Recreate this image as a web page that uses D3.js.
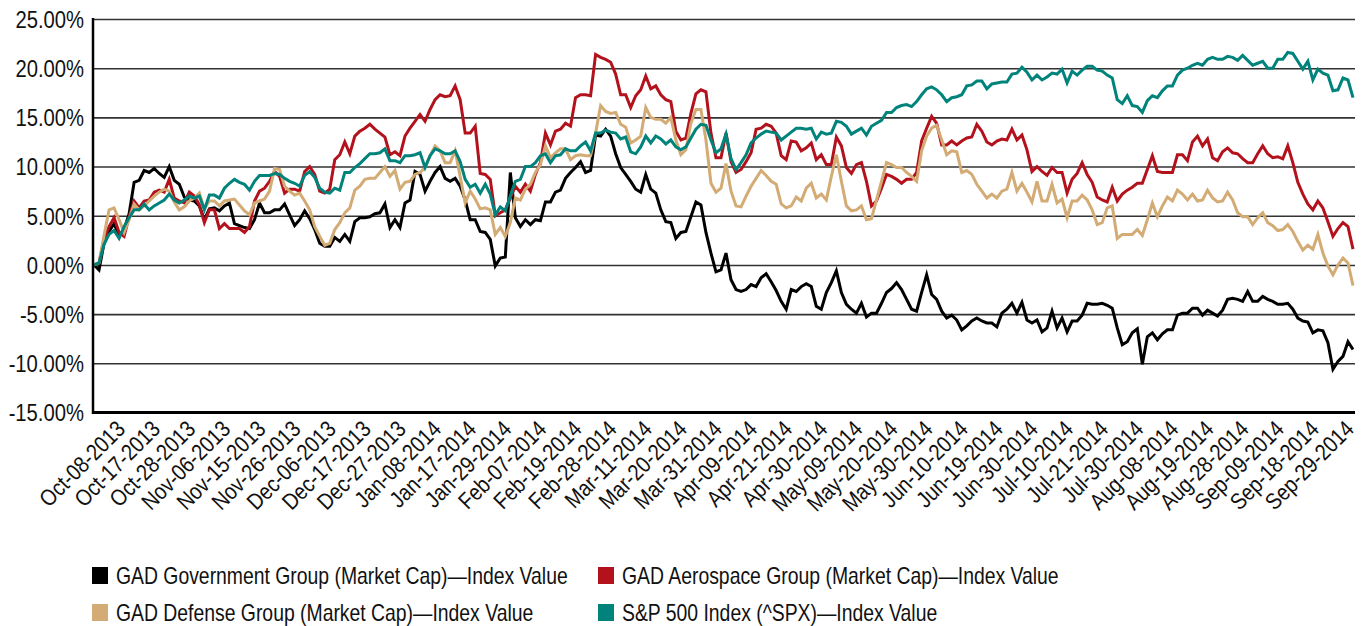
<!DOCTYPE html>
<html>
<head>
<meta charset="utf-8">
<script src="https://cdn.jsdelivr.net/npm/d3@7"></script>
<style>
  body { margin: 0; background: #fff; }
  svg text { font-family: "Liberation Sans", Arial, sans-serif; fill: #111; }
</style>
</head>
<body>
<svg width="1364" height="626"></svg>
<script>
// trading-day index 0 = Oct-08-2013, values are % change from start
var tickLabels = ["Oct-08-2013","Oct-17-2013","Oct-28-2013","Nov-06-2013","Nov-15-2013","Nov-26-2013",
  "Dec-06-2013","Dec-17-2013","Dec-27-2013","Jan-08-2014","Jan-17-2014","Jan-29-2014","Feb-07-2014",
  "Feb-19-2014","Feb-28-2014","Mar-11-2014","Mar-20-2014","Mar-31-2014","Apr-09-2014","Apr-21-2014",
  "Apr-30-2014","May-09-2014","May-20-2014","May-30-2014","Jun-10-2014","Jun-19-2014","Jun-30-2014",
  "Jul-10-2014","Jul-21-2014","Jul-30-2014","Aug-08-2014","Aug-19-2014","Aug-28-2014","Sep-09-2014",
  "Sep-18-2014","Sep-29-2014"];
var yTicks = [-15, -10, -5, 0, 5, 10, 15, 20, 25];

var government = [0,-0.5,2.2,3.4,4.2,3.0,3.6,5.2,8.4,8.6,
  9.6,9.4,9.8,9.3,8.9,10.0,8.6,8.2,6.9,6.6,
  6.5,6.0,4.6,5.7,5.8,5.5,6.0,6.3,4.2,4.0,
  3.8,3.7,4.6,6.3,5.3,5.3,5.6,5.6,6.2,5.1,
  4.0,4.6,5.5,4.7,3.6,2.2,1.9,1.9,2.8,2.4,
  3.1,2.4,4.4,4.8,4.8,4.9,5.2,5.3,6.2,3.8,
  4.6,3.8,6.3,6.6,9.5,9.2,7.5,8.5,9.4,10.0,
  8.8,8.5,8.8,8.0,6.6,4.6,4.6,3.4,3.3,2.6,
  -0.1,0.7,0.8,9.4,4.8,3.9,4.6,4.1,4.6,4.5,
  6.4,6.4,7.4,7.6,8.8,9.4,9.9,10.5,9.4,9.6,
  13.2,13.1,13.8,13.1,11.3,9.9,9.2,8.5,7.7,7.4,
  9.2,7.7,7.3,5.6,4.4,4.3,2.7,3.3,3.4,4.9,
  6.4,6.1,3.3,1.2,-0.7,-0.5,1.2,-1.5,-2.5,-2.7,
  -2.5,-2.0,-2.2,-1.3,-0.9,-1.7,-2.6,-3.7,-4.5,-2.5,
  -2.7,-2.2,-1.9,-2.2,-4.2,-4.5,-2.8,-1.8,-0.6,-2.8,
  -4.0,-4.5,-4.9,-3.9,-5.3,-4.9,-4.9,-3.9,-2.8,-2.4,
  -1.8,-2.5,-3.5,-4.5,-4.7,-2.8,-1.0,-3.0,-3.5,-4.7,
  -5.4,-5.1,-5.6,-6.6,-6.2,-5.7,-5.4,-5.7,-5.9,-5.9,
  -6.3,-4.9,-4.5,-3.9,-4.9,-3.8,-5.6,-5.9,-5.6,-6.8,
  -6.4,-4.7,-6.4,-5.4,-6.8,-5.7,-5.7,-5.1,-3.9,-4.0,
  -4.0,-3.9,-4.1,-4.4,-6.4,-8.1,-7.8,-6.9,-6.5,-10.1,
  -7.3,-6.9,-7.6,-7.0,-6.6,-6.6,-5.1,-4.9,-4.9,-4.4,
  -4.4,-5.1,-4.6,-4.9,-5.2,-4.6,-3.5,-3.4,-3.5,-3.7,
  -2.7,-3.7,-3.7,-3.2,-3.5,-3.7,-4.0,-4.0,-3.9,-4.5,
  -5.4,-5.7,-5.8,-6.9,-6.6,-6.7,-7.9,-10.6,-9.8,-9.3,
  -7.8,-8.6];

var aerospace = [0,0.2,2.6,3.9,4.8,3.3,2.9,4.9,6.5,5.8,
  6.5,6.6,7.4,7.6,7.4,8.7,6.8,6.5,6.3,7.4,
  7.0,6.1,4.3,5.6,5.6,3.7,4.2,3.7,3.7,3.7,
  3.3,3.9,6.5,7.5,7.8,8.5,9.5,9.0,7.3,7.7,
  7.7,7.5,9.5,10.0,9.2,7.5,7.3,7.7,10.7,11.2,
  12.5,11.3,13.1,13.6,13.9,14.3,13.8,13.4,13.0,11.2,
  11.5,11.1,13.1,13.9,14.6,15.3,14.6,15.8,16.8,17.3,
  17.1,17.2,18.2,16.8,13.4,13.4,14.1,9.3,9.2,8.7,
  5.0,5.3,5.6,6.8,8.0,7.4,8.2,7.5,9.2,10.4,
  13.4,12.2,13.6,13.8,14.4,14.1,17.0,17.3,17.3,17.2,
  21.4,21.1,20.9,20.6,19.4,17.3,17.3,16.0,17.2,17.8,
  19.2,17.9,18.2,17.3,16.8,16.6,13.6,12.7,12.9,15.4,
  17.4,17.8,17.6,13.4,10.9,10.9,13.4,10.5,9.4,9.7,
  10.5,11.4,13.8,13.9,14.3,14.1,13.4,11.1,10.7,12.6,
  12.5,11.6,11.9,12.4,10.7,11.2,10.2,10.2,13.0,12.1,
  9.9,9.3,10.2,10.4,8.5,6.0,6.5,7.8,9.2,9.0,
  8.7,8.3,8.7,8.7,9.4,12.6,13.9,15.1,14.4,12.2,
  12.2,12.6,12.2,12.6,12.9,13.0,14.3,13.6,12.5,12.2,
  12.6,12.8,12.7,13.8,12.7,13.2,11.7,9.5,10.0,9.5,
  9.1,9.9,9.4,9.4,7.3,8.7,9.3,10.4,9.2,8.4,
  6.9,6.6,6.4,7.9,6.5,7.2,7.6,7.9,8.3,8.3,
  9.7,11.1,9.5,9.4,9.4,9.4,11.2,11.2,10.6,12.5,
  13.1,12.1,12.8,10.9,10.6,11.5,11.9,11.4,11.3,10.8,
  10.4,10.4,11.3,12.1,11.3,10.9,11.0,10.8,12.1,10.4,
  8.4,7.2,6.2,5.6,6.5,5.8,4.4,2.9,3.7,4.3,
  3.9,1.6];

var defense = [0,0.2,3.0,5.6,5.8,4.6,3.3,4.6,6.2,5.6,
  6.0,6.5,7.0,7.4,7.7,7.5,6.4,5.6,5.9,6.5,
  6.8,7.3,5.7,6.5,6.5,6.0,6.5,6.6,6.7,6.1,
  5.5,5.1,6.3,6.5,6.7,7.5,9.8,9.7,8.0,7.5,
  7.1,7.3,6.5,5.6,3.9,2.9,2.0,2.2,3.6,4.3,
  5.3,5.8,7.6,8.0,8.7,8.8,8.8,9.4,10.0,9.0,
  9.6,7.7,8.4,8.5,9.2,9.4,9.9,11.1,12.1,11.6,
  10.4,10.4,11.6,9.0,6.3,7.5,6.7,5.7,5.8,5.6,
  3.1,3.8,2.9,4.3,6.8,6.6,7.7,8.2,9.4,10.2,
  12.1,10.9,11.4,11.8,11.8,10.7,11.1,11.2,11.1,11.1,
  13.4,16.2,15.6,15.4,15.5,14.3,14.0,12.4,12.7,13.1,
  16.0,15.0,14.8,14.8,14.4,15.0,12.7,11.2,11.7,14.4,
  15.8,15.8,12.7,8.3,7.4,7.8,10.3,7.5,6.0,5.9,
  7.0,8.0,8.8,9.6,9.1,8.5,8.2,6.2,5.8,6.0,
  6.9,6.5,7.8,8.3,6.8,7.2,6.6,9.0,11.2,8.5,
  6.0,5.5,5.6,6.0,4.6,4.7,6.6,8.5,10.4,10.2,
  9.9,9.9,9.4,9.0,8.5,11.6,13.1,13.9,14.2,12.7,
  11.2,11.6,11.5,9.4,9.6,9.2,8.2,7.5,6.8,7.2,
  6.8,7.5,7.7,9.4,7.5,8.3,7.4,6.4,8.5,6.5,
  6.5,8.2,6.3,6.7,4.8,6.5,6.5,7.1,6.6,5.6,
  4.1,4.3,5.8,6.0,2.7,3.1,3.1,3.1,3.6,3.0,
  4.6,6.3,4.9,6.0,6.9,6.5,7.6,7.2,6.6,7.2,
  6.5,6.6,7.6,6.8,6.4,6.5,7.4,6.6,5.3,4.9,
  4.9,4.1,4.8,5.3,4.3,4.0,3.5,3.6,4.1,3.4,
  2.4,1.5,2.0,1.6,3.1,1.2,-0.1,-1.0,0.0,0.7,
  0.2,-2.1];

var sp500 = [0,0.2,2.1,3.1,3.5,2.7,3.9,4.8,5.6,5.6,
  6.2,5.6,6.0,6.3,6.6,7.2,6.6,6.3,6.6,7.0,
  6.8,7.0,5.6,7.1,7.1,6.8,7.8,8.3,8.7,8.4,
  8.2,7.6,8.5,9.1,9.1,9.1,9.3,9.2,8.8,8.5,
  8.3,8.0,9.1,9.5,8.9,7.8,7.4,7.3,7.8,7.6,
  9.4,9.4,9.9,10.3,10.8,11.3,11.3,11.4,11.8,10.6,
  10.6,10.4,11.1,11.1,11.2,11.4,9.9,11.1,11.8,11.6,
  11.3,11.3,11.6,10.5,8.7,7.9,8.2,7.3,8.2,7.2,
  5.1,5.9,5.5,7.0,8.5,8.7,10.0,10.0,10.4,11.1,
  11.3,10.4,11.1,11.2,11.8,11.6,11.6,12.1,12.5,11.6,
  13.4,13.4,13.7,13.5,13.4,12.8,13.0,11.5,11.3,12.0,
  13.1,12.4,13.1,12.8,12.3,12.7,12.0,11.7,12.0,12.9,
  13.8,14.3,14.2,12.7,11.4,11.8,13.3,10.8,9.7,10.4,
  11.2,12.4,12.9,13.3,13.6,13.5,13.4,12.7,13.1,13.5,
  13.9,13.9,13.8,13.9,12.8,13.5,13.3,13.4,14.6,14.5,
  14.1,13.3,13.6,13.9,13.2,14.1,14.4,14.7,15.5,15.5,
  16.0,16.2,16.3,16.1,16.6,17.3,17.9,18.1,17.8,17.3,
  16.6,17.0,17.1,17.3,18.2,18.3,18.7,18.7,17.9,18.4,
  18.5,18.6,18.6,19.4,19.5,20.1,19.6,18.8,19.3,18.8,
  19.1,19.5,19.4,19.9,18.5,19.7,19.3,19.8,20.2,20.2,
  19.8,19.7,19.3,19.0,16.8,16.4,17.2,16.2,16.1,15.5,
  16.7,17.2,17.0,17.7,18.2,18.2,19.3,19.8,20.0,20.3,
  20.5,20.3,20.9,21.1,20.9,20.9,21.2,21.1,20.8,21.3,
  20.8,20.3,20.5,20.7,20.0,20.0,20.9,20.9,21.6,21.5,
  20.7,19.9,20.7,18.8,19.9,19.5,19.3,17.7,17.8,19.0,
  18.8,17.0];

var seriesNames = ["GAD Government Group (Market Cap)\u2014Index Value",
  "GAD Aerospace Group (Market Cap)\u2014Index Value",
  "GAD Defense Group (Market Cap)\u2014Index Value",
  "S&P 500 Index (^SPX)\u2014Index Value"];
var seriesColors = ["#000000", "#b3121d", "#d3ab74", "#00837a"];
var allSeries = [government, aerospace, defense, sp500];

var svg = d3.select("svg");
var plotLeft = 93, plotRight = 1355, plotTop = 19, plotBottom = 412.5;

var xScale = d3.scaleLinear().domain([0, government.length - 1]).range([plotLeft + 1, 1353]);
var yScale = d3.scaleLinear().domain([-15, 25]).range([plotBottom, plotTop]);

// gridlines + y labels
var yAxis = svg.append("g")
  .attr("transform", "translate(" + plotLeft + ",0)")
  .call(d3.axisLeft(yScale).tickValues(yTicks).tickSize(-(plotRight - plotLeft))
    .tickFormat(function(d) { return d.toFixed(2) + "%"; }));
yAxis.select(".domain").remove();
yAxis.selectAll(".tick line").attr("stroke", "#333").attr("stroke-width", 1.6);
yAxis.selectAll(".tick text")
  .attr("font-size", 23).attr("x", 0).attr("dy", "0.36em")
  .attr("transform", "translate(-9,0) scale(0.88,1)");

// x axis labels (every 7 trading days)
var xTickIdx = tickLabels.map(function(d, i) { return i * 7; });
var xAxis = svg.append("g")
  .attr("transform", "translate(0," + plotBottom + ")")
  .call(d3.axisBottom(xScale).tickValues(xTickIdx).tickSize(0)
    .tickFormat(function(d) { return tickLabels[d / 7]; }));
xAxis.select(".domain").remove();
xAxis.selectAll(".tick text")
  .attr("font-size", 23)
  .attr("text-anchor", "end")
  .attr("y", 0).attr("dy", 0)
  .attr("transform", "translate(32,18) rotate(-45) scale(0.86,1)");

// lines
var line = d3.line()
  .x(function(d, i) { return xScale(i); })
  .y(function(d) { return yScale(d); });

svg.append("g").selectAll("path")
  .data(allSeries)
  .enter().append("path")
  .attr("d", line)
  .attr("fill", "none")
  .attr("stroke", function(d, i) { return seriesColors[i]; })
  .attr("stroke-width", 3)
  .attr("stroke-linejoin", "miter");

// axis lines
svg.append("line").attr("x1", plotLeft).attr("x2", plotLeft).attr("y1", plotTop - 1).attr("y2", plotBottom + 1.5)
  .attr("stroke", "#000").attr("stroke-width", 2.5);
svg.append("line").attr("x1", plotLeft - 1).attr("x2", plotRight).attr("y1", plotBottom).attr("y2", plotBottom)
  .attr("stroke", "#000").attr("stroke-width", 3);

// legend
var legendPos = [[92, 575], [598, 575], [92, 612], [598, 612]];
var legend = svg.append("g").selectAll("g")
  .data(seriesNames)
  .enter().append("g")
  .attr("transform", function(d, i) { return "translate(" + legendPos[i][0] + "," + legendPos[i][1] + ")"; });
legend.append("rect")
  .attr("x", 0).attr("y", -8).attr("width", 16).attr("height", 17)
  .attr("fill", function(d, i) { return seriesColors[i]; });
var legendText = legend.append("text")
  .attr("x", 0).attr("y", 0).attr("dy", "0.36em")
  .attr("font-size", 24)
  .text(function(d) { return d; });
// condense the legend font to the reference width of the first entry
var squeeze = 452 / legendText.node().getComputedTextLength();
legendText.attr("transform", "translate(24,0) scale(" + squeeze + ",1)");
</script>
</body>
</html>
